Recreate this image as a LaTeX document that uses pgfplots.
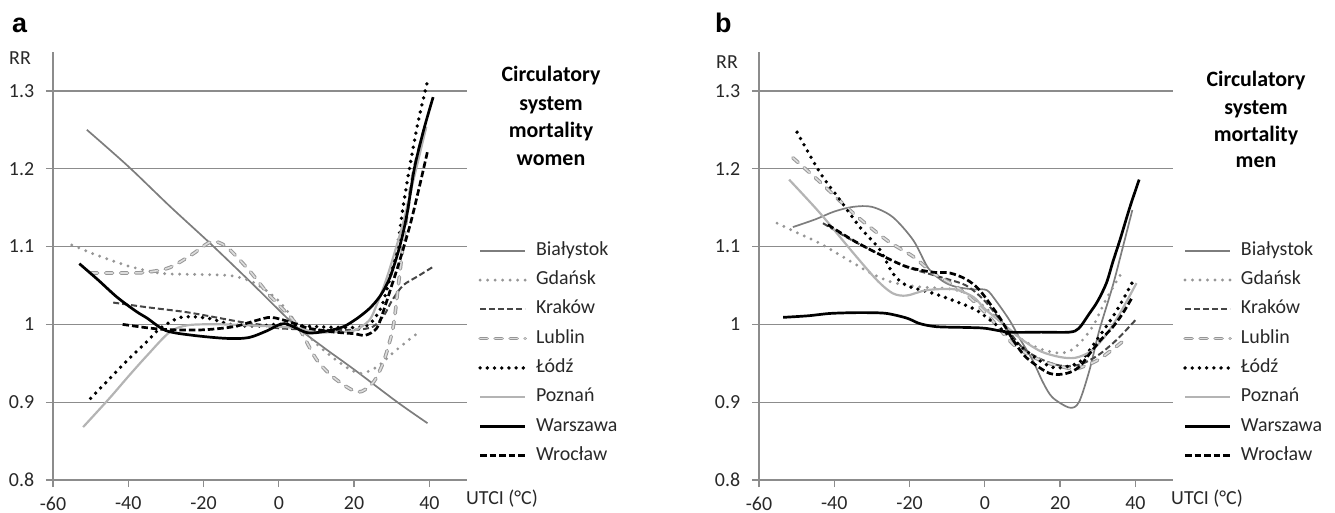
\documentclass[border=0pt]{standalone}
\usepackage{fontspec}
\setmainfont{Carlito}
\newfontfamily\labfont{Liberation Sans}
\usepackage{pgfplots}
\pgfplotsset{compat=1.18}
\definecolor{axg}{RGB}{140,140,140}
\definecolor{cBia}{RGB}{125,125,125}
\definecolor{cGda}{RGB}{150,150,150}
\definecolor{cKra}{RGB}{70,70,70}
\definecolor{cLubO}{RGB}{150,150,150}
\definecolor{cLubI}{RGB}{220,220,220}
\definecolor{cPoz}{RGB}{180,180,180}
\definecolor{txt}{RGB}{40,40,40}
\tikzset{
 sBia/.style={cBia, line width=1.7bp},
 sGda/.style={cGda, line width=3.2bp, line cap=round, dash pattern=on 0bp off 7.5bp},
 sKra/.style={cKra, line width=2bp, dash pattern=on 6bp off 3bp},
 sLub/.style={cLubO, line width=1bp, double=cLubI, double distance=1.6bp, line cap=round, dash pattern=on 7bp off 8bp},
 sLod/.style={black, line width=3.8bp, line cap=round, dash pattern=on 0bp off 7.2bp},
 sPoz/.style={cPoz, line width=2.2bp},
 sWar/.style={black, line width=2.7bp},
 sWro/.style={black, line width=2.7bp, dash pattern=on 6.5bp off 3bp},
}
\pgfplotsset{
 panel/.style={
  scale only axis, width=414bp, height=428bp,
  xmin=-60, xmax=50, ymin=0.8, ymax=1.35,
  axis x line*=bottom, axis y line*=left,
  xtick={-60,-40,-20,0,20,40}, xticklabels={-60,-40,-20,0,20,40},
  ytick={0.8,0.9,1,1.1,1.2,1.3}, yticklabels={0.8,0.9,1,1.1,1.2,1.3},
  ymajorgrids, grid style={axg, line width=1.3bp},
  axis line style={axg, line width=1.3bp},
  major tick style={axg, line width=1.3bp}, tick align=outside, major tick length=7bp,
  ticklabel style={txt},
  xticklabel style={yshift=-3bp},
  yticklabel style={xshift=-5bp},
  legend image code/.code={\draw[##1] (0bp,0bp) -- (45bp,0bp);},
  legend cell align=left,
  legend style={draw=none, fill=none, inner sep=0pt, row sep=12.3bp, column sep=9bp,
    nodes={inner sep=0pt, text height=13bp, text depth=4bp, text=txt}},
  every axis plot/.append style={smooth, tension=0.5},
 }
}
\begin{document}
\fontsize{20pt}{24pt}\selectfont
\begin{tikzpicture}
\useasboundingbox (0,0) rectangle (1335bp,513bp);
% ---------------- panel a ----------------
\begin{axis}[panel, at={(53bp,33bp)}, anchor=south west,
  legend style={at={(1.0266,0.556)}, anchor=north west}]
\addplot[sBia] coordinates {(-51,1.25) (-40,1.203) (-29,1.152) (-18,1.103) (-7,1.052) (4,1.0) (12,0.97) (20,0.942) (31.5,0.9) (39.5,0.873)};
\addlegendentry{Białystok}
\addplot[sGda] coordinates {(-55,1.102) (-50,1.092) (-45,1.083) (-40,1.075) (-35,1.069) (-30,1.065) (-20,1.064) (-12,1.062) (-6,1.052) (0,1.03) (5,1.0) (10,0.975) (15,0.955) (19,0.942) (22,0.937) (26,0.945) (30,0.962) (34,0.978) (37.5,0.991)};
\addlegendentry{Gdańsk}
\addplot[sKra] coordinates {(-44,1.028) (-35,1.022) (-25,1.016) (-19,1.011) (-10,1.003) (-4,0.999) (0,0.995) (10,0.993) (20,0.993) (25,0.997) (28,1.012) (30,1.03) (33,1.05) (37,1.062) (41,1.074)};
\addlegendentry{Kraków}
\addplot[sLub] coordinates {(-50,1.066) (-40,1.066) (-35,1.067) (-29,1.073) (-23,1.09) (-18,1.106) (-14,1.1) (-8,1.07) (-3,1.04) (0,1.025) (5,0.998) (10,0.955) (15,0.93) (21,0.913) (25,0.925) (27.5,0.948) (29,0.97) (30.5,1.0) (32,1.06) (34,1.14) (36,1.2) (39,1.255)};
\addlegendentry{Lublin}
\addplot[sLod] coordinates {(-50,0.905) (-45,0.93) (-40,0.955) (-35,0.978) (-31.5,0.995) (-26,1.009) (-19,1.008) (-12,0.999) (-5,0.998) (0,1.0) (10,0.997) (20,0.996) (24,1.0) (27,1.02) (29,1.05) (31.5,1.1) (33,1.15) (34.7,1.2) (37,1.26) (39.5,1.312)};
\addlegendentry{Łódź}
\addplot[sPoz] coordinates {(-52,0.868) (-45,0.905) (-40,0.933) (-35,0.96) (-29,0.99) (-24,0.999) (-15,1.0) (-5,0.998) (0,0.997) (5,0.995) (10,0.99) (15,0.99) (20,0.992) (24,1.005) (26,1.025) (28,1.05) (30,1.08) (33,1.13) (36,1.19) (39.2,1.254)};
\addlegendentry{Poznań}
\addplot[sWar] coordinates {(-53,1.078) (-48,1.057) (-43,1.035) (-38,1.017) (-35,1.008) (-30,0.992) (-23,0.986) (-14,0.982) (-8,0.983) (-3,0.992) (1.5,1.001) (8,0.989) (16,0.995) (20,1.005) (24,1.02) (27,1.037) (29.5,1.06) (32,1.098) (34,1.14) (36,1.2) (38.5,1.25) (41,1.292)};
\addlegendentry{Warszawa}
\addplot[sWro] coordinates {(-41.5,1.0) (-34,0.995) (-28,0.993) (-20,0.993) (-12,0.997) (-6,1.005) (-2,1.009) (3,1.003) (8,0.995) (15,0.99) (20,0.988) (23,0.986) (26,0.995) (28,1.02) (30,1.05) (32,1.08) (35,1.13) (37.5,1.18) (39.5,1.222)};
\addlegendentry{Wrocław}
\end{axis}
% ---------------- panel b ----------------
\begin{axis}[panel, at={(759bp,33bp)}, anchor=south west,
  legend style={at={(1.024,0.556)}, anchor=north west}]
\addplot[sBia] coordinates {(-51,1.125) (-45,1.135) (-40,1.145) (-35,1.151) (-30,1.151) (-24.5,1.138) (-19,1.108) (-15,1.072) (-11,1.055) (-7.5,1.048) (-3,1.045) (0.5,1.044) (3,1.03) (6.6,1.005) (9.5,0.98) (12.7,0.954) (15.5,0.925) (18,0.906) (22.5,0.893) (25,0.9) (27.8,0.941) (30.4,0.992) (33.9,1.048) (36.5,1.096) (39.2,1.147)};
\addlegendentry{Białystok}
\addplot[sGda] coordinates {(-55.2,1.13) (-50,1.118) (-43.8,1.104) (-35,1.079) (-30,1.065) (-24.5,1.054) (-17,1.048) (-10,1.046) (-5,1.04) (0,1.022) (5,1.0) (10,0.98) (15,0.968) (20,0.963) (23,0.967) (26,0.98) (29,1.0) (32,1.03) (36.3,1.066)};
\addlegendentry{Gdańsk}
\addplot[sKra] coordinates {(-43,1.13) (-36,1.11) (-28,1.09) (-21,1.074) (-12,1.061) (-5,1.05) (0,1.03) (5,1.0) (10,0.97) (15,0.955) (20,0.947) (25,0.948) (30,0.96) (35,0.98) (40.3,1.007)};
\addlegendentry{Kraków}
\addplot[sLub] coordinates {(-51,1.214) (-43.8,1.183) (-35,1.143) (-26,1.108) (-19,1.087) (-13.8,1.066) (-7.5,1.048) (-3,1.03) (1.3,1.009) (7.4,0.975) (12,0.96) (17,0.95) (21,0.945) (24.3,0.943) (29.6,0.953) (34,0.968) (37.9,0.983)};
\addlegendentry{Lublin}
\addplot[sLod] coordinates {(-49.9,1.247) (-43.8,1.195) (-38.5,1.16) (-33.2,1.125) (-27.9,1.096) (-24.5,1.066) (-20.8,1.05) (-13.8,1.04) (-8,1.03) (-2.2,1.018) (3.9,0.996) (10,0.97) (15,0.952) (19,0.944) (25,0.951) (29,0.975) (33.9,1.009) (36.5,1.03) (39.2,1.054)};
\addlegendentry{Łódź}
\addplot[sPoz] coordinates {(-52,1.186) (-43.8,1.143) (-35,1.092) (-28.7,1.057) (-24.5,1.04) (-20.8,1.037) (-15.4,1.044) (-8,1.045) (-3,1.035) (0,1.02) (5,1.0) (10,0.98) (15,0.965) (20,0.958) (24,0.957) (28,0.965) (32,0.985) (36,1.015) (40.3,1.053)};
\addlegendentry{Poznań}
\addplot[sWar] coordinates {(-53.6,1.009) (-47,1.011) (-41.2,1.014) (-35,1.015) (-30.6,1.015) (-26,1.014) (-20.7,1.008) (-17.3,1.001) (-12.8,0.997) (-5,0.996) (0,0.995) (6.6,0.99) (15,0.99) (22.5,0.99) (25,0.995) (27.8,1.014) (30,1.03) (32.3,1.053) (34,1.08) (36,1.11) (38.5,1.15) (41,1.186)};
\addlegendentry{Warszawa}
\addplot[sWro] coordinates {(-41.7,1.128) (-35,1.108) (-28,1.09) (-20.7,1.074) (-13.8,1.067) (-9.3,1.066) (-5,1.058) (-1.4,1.044) (3.9,1.009) (7.5,0.98) (11.1,0.957) (17.2,0.937) (21.7,0.937) (25,0.945) (27.8,0.962) (30.8,0.98) (33.9,0.996) (36.5,1.013) (39.2,1.035)};
\addlegendentry{Wrocław}
\end{axis}
% ---------------- texts ----------------
\node[anchor=base west, inner sep=0pt, font=\labfont\bfseries\fontsize{27pt}{30pt}\selectfont] at (12bp,480bp) {a};
\node[anchor=base west, inner sep=0pt, font=\labfont\bfseries\fontsize{27pt}{30pt}\selectfont] at (715bp,480bp) {b};
\node[anchor=base west, inner sep=0pt, text=txt] at (9bp,448bp) {RR};
\node[anchor=base west, inner sep=0pt, text=txt] at (716bp,444bp) {RR};
\node[anchor=base west, inner sep=0pt, text=txt] at (466bp,9bp) {UTCI (°C)};
\node[anchor=base west, inner sep=0pt, text=txt] at (1171bp,9bp) {UTCI (°C)};
\begin{scope}[every node/.style={anchor=base, inner sep=0pt, font=\bfseries\fontsize{22pt}{26pt}\selectfont}]
\node at (551bp,431bp) {Circulatory};
\node at (551bp,402bp) {system};
\node at (551bp,375bp) {mortality};
\node at (551bp,347bp) {women};
\node at (1256bp,426bp) {Circulatory};
\node at (1256bp,398bp) {system};
\node at (1256bp,371bp) {mortality};
\node at (1256bp,345bp) {men};
\end{scope}
\end{tikzpicture}
\end{document}
